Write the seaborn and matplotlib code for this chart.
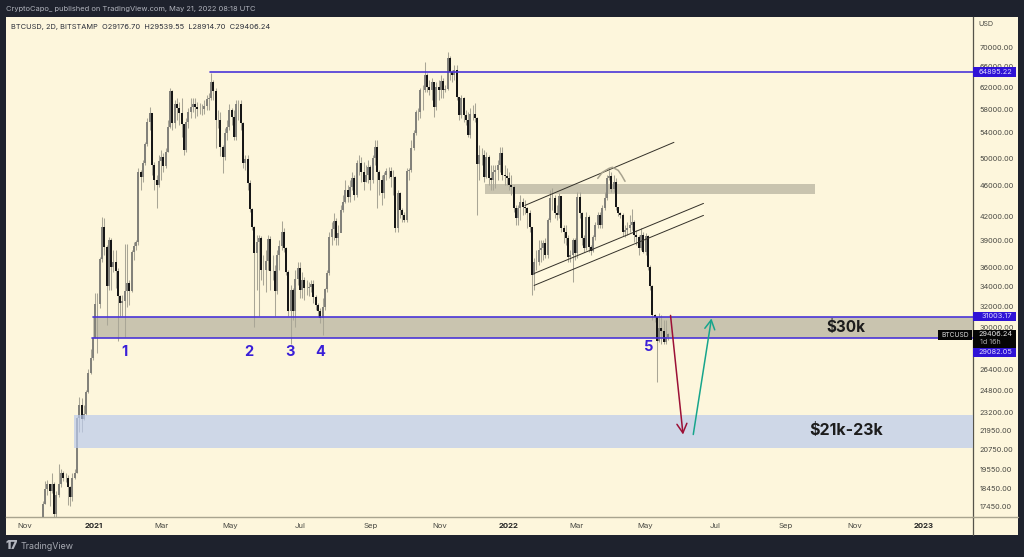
import numpy as np
import pandas as pd
import seaborn as sns
import matplotlib
matplotlib.use("Agg")
import matplotlib.pyplot as plt
import matplotlib.dates as mdates
from matplotlib.patches import Rectangle

first_open = 16500
close = [17620,18440,18670,18330,18670,17080,18110,18720,19350,19060,19060,18500,17950,19060,19350,22790,23770,22720,23130,24650,26180,
27320,29020,32160,32160,36840,40590,38220,33960,39030,35970,36510,35530,32950,32260,32450,33450,34270,33450,37640,38330,38790,
47930,47210,49260,52170,55760,57300,48960,46790,46090,49550,50160,48810,50920,54930,61240,55600,58870,58170,57300,55430,51230,55760,57470,58340,58870,58340,58000,58000,58000,58520,59770,59960,62930,61240,56100,56100,51700,50160,53940,54930,57820,56610,53300,58870,58870,55600,49260,49850,46370,42860,40590,37530,38790,39260,35640,35640,36620,39150,35530,35530,33450,37300,38330,39980,38100,35420,31490,33550,31490,34680,35860,33550,34580,33760,33760,33860,34170,32850,32060,31490,30830,31960,33650,35320,39380,40350,41330,39260,39860,
42730,43770,45390,44440,45810,47070,44710,49260,49260,47930,46510,47500,48670,46790,50000,51700,47930,46790,44980,47500,48070,48070,47210,47210,40470,44980,42730,42090,41460,48070,48220,51540,53940,57470,57470,61420,61420,64280,61980,61420,62930,58340,61980,61420,63110,61420,61610,67710,64860,64280,65250,60140,56950,59960,56950,56100,53620,57130,57130,56440,49110,50460,50460,47210,50160,47070,46790,47930,48220,48960,50770,47500,47350,47070,46090,45810,42990,41710,42990,43770,43120,42990,42340,40590,
35100,36510,36510,37860,38100,38680,37300,41460,44310,44310,42340,42090,44580,40470,39980,39260,37080,37300,39030,37530,44440,42340,39260,38100,41840,38220,37750,39380,40840,42090,40840,42990,44310,47070,47350,45530,46510,43120,42340,42090,39980,40220,40470,40840,41210,39620,39380,38100,39620,37640,39500,35970,33960,31110,30920,28840,29910,29640,28670,29176.70,29406.24]
high = [17780,18890,18950,18670,19350,18780,18330,19830,19590,19470,19350,19230,18610,19350,19590,22920,24350,24210,23700,24800,26500,
28150,29110,33250,33250,37080,41840,41710,38450,39380,39260,37860,37860,35860,33050,33050,38560,38560,34580,37860,38790,39030,
48520,48220,49700,52480,56440,58340,57300,49400,47500,50460,51230,50770,51540,56100,61800,61420,59590,59960,59230,59960,55260,56440,58170,59960,59960,59960,59230,59050,58870,59590,60500,60870,64660,63300,61800,57820,57470,52010,54760,56100,58870,58170,57820,59590,59590,59590,55760,50460,50460,46790,42990,40710,39620,39620,39500,37300,37860,39620,39500,37300,36180,37860,39030,41330,40470,38220,35640,34060,33760,35640,36510,36510,35420,34990,34580,34370,34580,34580,33050,32260,31770,32750,33760,35640,39980,41210,42340,41710,40840,
43380,44710,46790,46090,46790,47930,47500,49700,50460,50160,49400,48960,49700,48960,50460,52800,52800,48220,47500,47930,48520,48670,48670,48220,47350,45390,45120,42990,42470,48520,48520,52800,54430,57820,58170,61800,62360,66900,64660,63300,63700,62930,62930,63300,64280,63700,62360,68950,68120,65250,66300,66300,60140,60500,60140,57820,57470,58170,58700,59050,56610,52010,51540,51230,50920,50460,48960,48960,48960,49700,51700,51700,48960,48520,47930,47500,46090,43380,43380,44710,44310,44040,43120,42730,
40590,36970,37860,39030,39030,39030,39260,41710,45390,45670,44710,43380,44980,44580,40840,40840,39620,37860,39260,39260,45120,45120,42470,39620,42470,42090,38450,39620,41210,42470,42470,43380,45120,47500,48220,47930,47500,47070,43120,42470,42340,40840,41210,42090,42860,41460,40220,39620,40470,39980,39860,39620,36180,34060,31200,30920,31300,31110,30640,30640,29539.55]
low = [16700,17620,18060,17510,18220,16700,16910,17950,18550,18890,18780,17570,17510,17780,19000,19350,21850,21850,22650,23060,24580,
26100,27150,29020,27730,31770,36510,37300,30180,33550,33550,35420,33760,28840,31020,31020,29110,31960,32060,33350,36730,37860,
38450,45390,46510,48960,51850,54430,47500,45390,42990,45810,46790,47930,48520,50920,54760,54430,54760,56100,55260,53300,50460,50920,54760,56440,57470,56440,56780,57130,56950,57130,57820,57820,59590,59590,51540,54760,50310,47780,49700,52800,54430,55260,52800,52800,56100,54430,48520,48220,45390,42470,40220,30000,33550,31020,34580,34060,33350,35640,33550,34580,31020,33150,35640,37860,37640,35100,31020,28580,30640,30000,34060,32750,32750,32550,33050,32950,33350,32260,31580,30920,30370,29280,31580,33350,35100,38450,39030,38450,38450,
40220,42470,43640,43770,43770,45390,44040,44440,47500,46510,45390,46510,46370,45390,46370,48960,42990,44710,43380,44310,46790,47070,45810,44710,39980,39980,41710,41210,41210,41210,46790,47930,51230,53620,56100,56440,57820,61050,61050,60500,59590,56610,57820,59590,59960,59960,61050,61420,63300,62930,63300,59590,56100,56440,55760,55260,53300,53130,56100,55760,42090,46790,48960,46510,47070,46090,45390,45390,45670,46790,47930,46790,46090,46090,45390,44710,42470,40840,40840,41460,42090,42210,40470,39980,
33050,33550,35640,36180,36510,36730,36970,36970,41210,42730,41710,41460,41710,39980,38680,38450,36510,36510,34370,36730,36970,41710,38450,37640,37860,37640,37300,37640,39030,40470,40470,40470,42730,44040,46790,45120,45120,42730,41960,41710,39500,39380,39620,39980,40220,38790,38450,37300,37860,37530,37300,35640,33550,30640,30460,25410,28670,28580,28580,28580,28914.70]

resistance_top = 64895.22
zone_30k = [29082.05, 31003.17]
zone_46k = [44840, 46230]
zone_21k = [20870, 23000]
channel_dates = ["2022-01-15", "2022-05-26"]
channel_top = [43380, 52480]
band_dates = ["2022-01-23", "2022-06-21"]
band_upper = [35310, 43640]
band_lower = [34060, 42090]
arc_dates = ["2022-03-20","2022-03-24","2022-03-30","2022-04-02","2022-04-07","2022-04-10","2022-04-13"]
arc_prices = [47070,47930,48520,48670,48220,47500,46650]
y_ticks = [70000,66000,62000,58000,54000,50000,46000,42000,39000,36000,34000,32000,30000,26400,24800,23200,21950,20750,19550,18450,17450]
x_tick_dates = ["2020-11-01","2021-01-01","2021-03-01","2021-05-01","2021-07-01","2021-09-01","2021-11-01","2022-01-01","2022-03-01","2022-05-01","2022-07-01","2022-09-01","2022-11-01","2023-01-01"]
x_tick_labels = ["Nov","2021","Mar","May","Jul","Sep","Nov","2022","Mar","May","Jul","Sep","Nov","2023"]

W, H = 1024, 557
sns.set_theme(style="white")
plt.rcParams["font.family"] = ["Inter", "DejaVu Sans"]
DARK, CREAM = "#1e222d", "#fdf6dc"
BLUE = "#3a1fd8"

def px(x, y):
    return x / W, 1 - y / H

fig = plt.figure(figsize=(W / 100, H / 100), dpi=100, facecolor=DARK)
ax = fig.add_axes([6 / W, 1 - 517 / H, 967 / W, 500 / H], facecolor=CREAM, zorder=2)
fig.add_artist(Rectangle(px(6, 535), 1012 / W, 518 / H, transform=fig.transFigure, fc=CREAM, ec="none", zorder=0))

n = len(close)
dates = pd.date_range(end="2022-05-21", periods=n, freq="2D")
opens = [first_open] + close[:-1]
wick_df = pd.DataFrame({
    "date": np.tile(dates, 2), "price": low + high, "candle": list(range(n)) * 2})
body_df = pd.DataFrame({
    "date": np.tile(dates, 2), "price": opens + close, "candle": list(range(n)) * 2,
    "dir": [("up" if c >= o else "down") for o, c in zip(opens, close)] * 2})

d = lambda s: mdates.date2num(pd.Timestamp(s))
x0 = d("2021-01-01") - 77.4
x1 = d("2021-01-01") + 773.0

ax.set_yscale("log")
ax.add_patch(Rectangle((d("2020-12-31"), zone_30k[0]), x1 - d("2020-12-31"), zone_30k[1] - zone_30k[0], fc="#c9c4af", ec="none", zorder=1))
ax.add_patch(Rectangle((d("2020-12-14"), zone_21k[0]), x1 - d("2020-12-14"), zone_21k[1] - zone_21k[0], fc="#bbcbed", alpha=0.7, ec="none", zorder=4))
ax.add_patch(Rectangle((d("2021-12-11"), zone_46k[0]), d("2022-09-27") - d("2021-12-11"), zone_46k[1] - zone_46k[0], fc="#c9c4af", ec="none", zorder=1))
ax.fill_between([d(s) for s in band_dates], band_lower, band_upper, color="#fff9df", lw=0, zorder=1)

sns.lineplot(data=wick_df, x="date", y="price", units="candle", estimator=None, sort=False,
             color="#a9a696", lw=0.75, ax=ax, legend=False, zorder=2, solid_capstyle="butt")
sns.lineplot(data=body_df, x="date", y="price", units="candle", estimator=None, sort=False,
             hue="dir", palette={"up": "#82817a", "down": "#141414"}, lw=1.42, ax=ax,
             legend=False, zorder=3, solid_capstyle="butt")

ax.plot([d("2021-04-13"), x1], [resistance_top] * 2, color="#4a35d8", lw=1.2, zorder=5)
ax.plot([d("2020-12-30"), x1], [zone_30k[0]] * 2, color="#4a35d8", lw=1.2, zorder=5)
ax.plot([d("2020-12-31"), x1], [zone_30k[1]] * 2, color="#4a35d8", lw=1.2, zorder=5)
ax.plot([d(s) for s in channel_dates], channel_top, color="#333028", lw=0.7, zorder=5)
ax.plot([d(s) for s in band_dates], band_upper, color="#333028", lw=0.7, zorder=5)
ax.plot([d(s) for s in band_dates], band_lower, color="#333028", lw=0.7, zorder=5)
ax.plot([d(s) for s in arc_dates], arc_prices, color="#a8a38f", lw=1.1, zorder=5)

ax.annotate("", xy=(d("2022-06-03"), 21710), xytext=(d("2022-05-23"), 31110),
            arrowprops=dict(arrowstyle="->,head_length=0.55,head_width=0.3", color="#9c1036", lw=1.1, shrinkA=0, shrinkB=0), zorder=6)
ax.annotate("", xy=(d("2022-06-28"), 30830), xytext=(d("2022-06-12"), 21710),
            arrowprops=dict(arrowstyle="->,head_length=0.55,head_width=0.3", color="#17a58c", lw=1.1, shrinkA=0, shrinkB=0), zorder=6)

ax.set_xlim(x0, x1)
ax.set_ylim(70000 * np.exp(-470 / 331), 70000 * np.exp(30 / 331))
ax.set_xlabel(""); ax.set_ylabel("")
ax.yaxis.tick_right()
y_labels = [f"{v:.2f}" for v in y_ticks]
ax.set_yticks(y_ticks)
ax.set_yticklabels(y_labels, fontsize=5.3, color="#4a4a44")
ax.minorticks_off()
ax.set_xticks([d(s) for s in x_tick_dates])
ax.set_xticklabels(x_tick_labels, fontsize=5.6, color="#4a4a44")
for lab in ax.get_xticklabels():
    if lab.get_text().isdigit():
        lab.set_fontweight("bold"); lab.set_color("#222222")
ax.tick_params(axis="x", length=0, pad=4)
ax.tick_params(axis="y", length=0, pad=4.5)
for s in ["top", "left"]:
    ax.spines[s].set_visible(False)
ax.spines["right"].set_color("#55534a"); ax.spines["right"].set_linewidth(0.9)
ax.spines["bottom"].set_color("#a8a48f"); ax.spines["bottom"].set_linewidth(1.0)
fig.add_artist(plt.Line2D([973 / W] * 2, [1 - 535 / H, 1 - 517 / H], color="#55534a", lw=0.9, zorder=3))
fig.add_artist(plt.Line2D([973 / W, 1018 / W], [1 - 517 / H] * 2, color="#a8a48f", lw=1.0, zorder=3))

def ftext(x, y, s, **kw):
    kw.setdefault("va", "center")
    t = fig.text(*px(x, y), s, **kw)
    t.set_zorder(8)
    return t

ftext(6, 9.5, "CryptoCapo_ published on TradingView.com, May 21, 2022 08:18 UTC", fontsize=5.36, color="#b2b5be")
ftext(11, 26.5, "BTCUSD, 2D, BITSTAMP  O29176.70  H29539.55  L28914.70  C29406.24", fontsize=5.35, color="#2a2e39")
ftext(978, 24.5, "USD", fontsize=5.2, color="#4a4a44")
ftext(6, 546, "17", fontsize=8.5, fontweight="black", color="#b2b5be")
ftext(21, 546.5, "TradingView", fontsize=6.4, color="#a8abb3")

for x, y, s in [(124, 352.5, "1"), (249, 352.5, "2"), (290, 352.5, "3"), (320, 352.5, "4"), (649, 347, "5")]:
    ftext(x, y, s, fontsize=10.5, fontweight="bold", color=BLUE, ha="center")
ftext(845.5, 327.5, "$30k", fontsize=11, fontweight="bold", color="#1c1c1c", ha="center")
ftext(846, 430.5, "$21k-23k", fontsize=11.5, fontweight="bold", color="#1c1c1c", ha="center")

def box(xa, ya, xb, yb, col, z=6):
    fig.add_artist(Rectangle(px(xa, yb), (xb - xa) / W, (yb - ya) / H, transform=fig.transFigure, fc=col, ec="none", zorder=z))

for ya, yb, s in [(67, 77, "64895.22"), (312, 321, "31003.17"), (348, 357, "29082.05")]:
    box(973, ya, 1016, yb, "#2f13d6")
    ftext(1012, (ya + yb) / 2, s, fontsize=5.3, color="#dcd8ff", ha="right")
box(973, 330, 1016, 347.5, "#050505")
ftext(1012, 334.5, "29406.24", fontsize=5.3, color="#e6e6e6", ha="right")
ftext(980, 342.5, "1d 16h", fontsize=5.2, color="#a8a8a8")
box(938, 330, 972, 339.5, "#050505")
ftext(955, 334.8, "BTCUSD", fontsize=4.8, color="#dddddd", ha="center")

fig.savefig("out.png", dpi=100, facecolor=DARK)
